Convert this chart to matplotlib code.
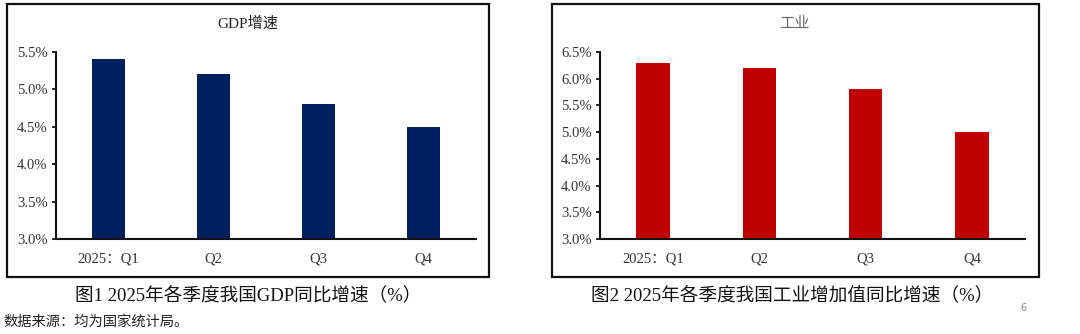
import matplotlib.pyplot as plt
from matplotlib.patches import Rectangle
from matplotlib.ticker import FuncFormatter

plt.rcParams['font.family'] = ['Liberation Serif', 'Noto Sans CJK SC', 'DejaVu Sans']

quarters = ['2025：Q1', 'Q2', 'Q3', 'Q4']
gdp_growth = [5.4, 5.2, 4.8, 4.5]
industry_growth = [6.3, 6.2, 5.8, 5.0]

gdp_ticks = [3.0, 3.5, 4.0, 4.5, 5.0, 5.5]
industry_ticks = [3.0, 3.5, 4.0, 4.5, 5.0, 5.5, 6.0, 6.5]

W, H = 1080, 334
fig = plt.figure(figsize=(W / 100, H / 100), dpi=100)
fig.patch.set_facecolor('white')


def px_rect(x0, y0, x1, y1):
    # pixel box (top-left origin) -> figure fraction [left, bottom, width, height]
    return [x0 / W, 1 - y1 / H, (x1 - x0) / W, (y1 - y0) / H]


def panel(frame, axes_box, values, ticks, color, title, title_color, caption, cap_x):
    l, b, w, h = px_rect(*frame)
    fig.patches.append(Rectangle((l, b), w, h, transform=fig.transFigure,
                                 fill=False, edgecolor='#111111', linewidth=1.6))
    ax = fig.add_axes(px_rect(*axes_box))
    ax.bar(range(len(values)), values, width=0.315, color=color, bottom=0)
    ax.set_xlim(-0.5, len(values) - 0.5)
    ax.set_ylim(ticks[0], ticks[-1])
    ax.set_yticks(ticks)
    ax.yaxis.set_major_formatter(FuncFormatter(lambda v, p: f'{v:.1f}%'))
    ax.set_xticks(range(len(values)))
    ax.set_xticklabels(quarters)
    for s in ['top', 'right']:
        ax.spines[s].set_visible(False)
    for s in ['left', 'bottom']:
        ax.spines[s].set_linewidth(1.5)
        ax.spines[s].set_color('#111111')
    ax.tick_params(axis='y', length=3, width=1.2, pad=3, labelsize=10.5, labelcolor='#333333')
    ax.tick_params(axis='x', length=0, pad=10, labelsize=10.5, labelcolor='#333333')
    fig.text(((axes_box[0] + axes_box[2]) / 2 - 18) / W, 1 - 24 / H, title,
             ha='center', va='center', fontsize=11, color=title_color)
    fig.text(cap_x / W, 1 - 295 / H, caption, ha='center', va='center',
             fontsize=13.4, color='#111111')
    return ax


panel((7, 4, 489, 277), (56, 52, 476, 239), gdp_growth, gdp_ticks, '#002060',
      'GDP增速', '#222222', '图1 2025年各季度我国GDP同比增速（%）', 248)
panel((552, 4, 1039, 277), (600, 52, 1025, 239), industry_growth, industry_ticks, '#C00000',
      '工业', '#666666', '图2 2025年各季度我国工业增加值同比增速（%）', 792)

fig.text(3 / W, 1 - 322 / H, '数据来源：均为国家统计局。', ha='left', va='center',
         fontsize=10.3, color='#222222', family=['Noto Sans CJK SC', 'DejaVu Sans'])
fig.text(1023 / W, 1 - 308 / H, '6', ha='center', va='center', fontsize=7, color='#888888',
         family=['DejaVu Sans'])

fig.savefig('out.png', dpi=100, facecolor='white')
